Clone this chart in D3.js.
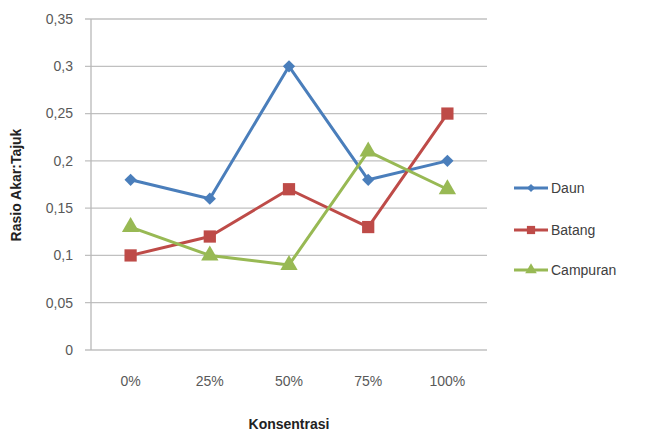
<!DOCTYPE html>
<html><head><meta charset="utf-8">
<script src="https://cdn.jsdelivr.net/npm/d3@7"></script>
<style>
body{margin:0;background:#fff;}
text{font-family:"Liberation Sans Narrow","Liberation Sans",Arial,sans-serif;}
</style></head>
<body><svg id="c" width="645" height="439"></svg>
<script>
const categories = ["0%","25%","50%","75%","100%"];
const daun = [0.18,0.16,0.30,0.18,0.20];
const batang = [0.10,0.12,0.17,0.13,0.25];
const campuran = [0.13,0.10,0.09,0.21,0.17];
const yTicks = [0,0.05,0.1,0.15,0.2,0.25,0.3,0.35];
const yTickLabels = ["0","0,05","0,1","0,15","0,2","0,25","0,3","0,35"];
const seriesNames = ["Daun","Batang","Campuran"];

const series = [
  {name:seriesNames[0], values:daun, color:"#4a7ebb", shape:"diamond"},
  {name:seriesNames[1], values:batang, color:"#be4b48", shape:"square"},
  {name:seriesNames[2], values:campuran, color:"#98b954", shape:"triangle"}
];

const svg = d3.select("#c");
const pL=91, pR=487, pT=19, pB=350;
const x = d3.scaleBand().domain(categories).range([pL,pR]);
const y = d3.scaleLinear().domain([0,0.35]).range([pB,pT]);

svg.append("g").selectAll("line").data(yTicks).join("line")
  .attr("x1",pL-6).attr("x2",pR)
  .attr("y1",d=>y(d)).attr("y2",d=>y(d))
  .attr("stroke","#c0c0c0").attr("stroke-width",1.3);
svg.append("line").attr("x1",pL).attr("x2",pL).attr("y1",pT).attr("y2",pB)
  .attr("stroke","#b8b8b8").attr("stroke-width",1.3);

svg.append("g").selectAll("text").data(yTicks).join("text")
  .attr("x",73).attr("y",d=>y(d)).attr("dy","0.35em")
  .attr("text-anchor","end").attr("font-size",14).attr("fill","#595959")
  .text((d,i)=>yTickLabels[i]);

svg.append("g").selectAll("text").data(categories).join("text")
  .attr("x",d=>x(d)+x.bandwidth()/2).attr("y",386)
  .attr("text-anchor","middle").attr("font-size",14).attr("fill","#595959")
  .text(d=>d);

svg.append("text").attr("x",289).attr("y",429).attr("text-anchor","middle")
  .attr("font-size",14).attr("font-weight","bold").attr("fill","#222").text("Konsentrasi");
svg.append("text").attr("transform","translate(21,185) rotate(-90)").attr("text-anchor","middle")
  .attr("font-size",14).attr("font-weight","bold").attr("fill","#222").text("Rasio Akar:Tajuk");

const sym = {diamond:d3.symbolSquare, square:d3.symbolSquare, triangle:d3.symbolTriangle};
const sizes = {diamond:75, square:150, triangle:130};
const rot = {diamond:45, square:0, triangle:0};
const line = d3.line().x((d,i)=>x(categories[i])+x.bandwidth()/2).y(d=>y(d));

series.forEach(s=>{
  svg.append("path").datum(s.values).attr("d",line)
    .attr("fill","none").attr("stroke",s.color).attr("stroke-width",3).attr("stroke-linejoin","round");
  svg.append("g").selectAll("path").data(s.values).join("path")
    .attr("transform",(d,i)=>`translate(${x(categories[i])+x.bandwidth()/2},${y(d)}) rotate(${rot[s.shape]})`)
    .attr("d",d3.symbol().type(sym[s.shape]).size(sizes[s.shape]))
    .attr("fill",s.color);
});

const ly = [188,230,270];
series.forEach((s,i)=>{
  const g = svg.append("g").attr("transform",`translate(0,${ly[i]})`);
  g.append("line").attr("x1",514).attr("x2",548).attr("y1",0).attr("y2",0)
    .attr("stroke",s.color).attr("stroke-width",3);
  g.append("path").attr("transform",`translate(531,0) rotate(${rot[s.shape]})`)
    .attr("d",d3.symbol().type(sym[s.shape]).size(sizes[s.shape]*0.45)).attr("fill",s.color);
  g.append("text").attr("x",551).attr("y",0).attr("dy","0.35em")
    .attr("font-size",14).attr("fill","#404040").text(s.name);
});
</script></body></html>
